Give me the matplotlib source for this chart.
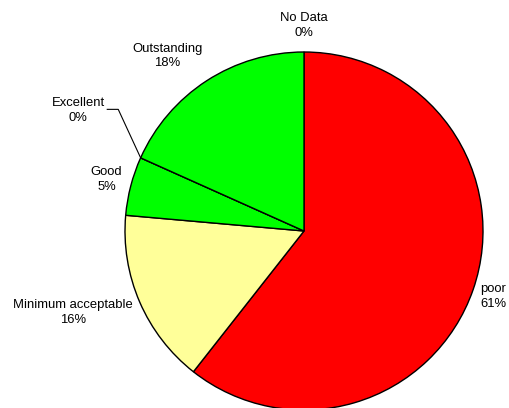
import numpy as np
import matplotlib
matplotlib.use("Agg")
import matplotlib.pyplot as plt

# categories clockwise from 12 o'clock
labels = ["No Data", "poor", "Minimum acceptable", "Good", "Excellent", "Outstanding"]
values = [0.0, 60.6, 15.8, 5.3, 0.0, 18.3]
colors = ["#FFFFFF", "#FF0000", "#FFFF99", "#00FF00", "#00FF00", "#00FF00"]

# label placement: distance from centre (in radii) and angle tweak (deg)
label_dist = [1.15, 1.12, 1.37, 1.14, 1.43, 1.24]
label_shift = [0, 0, 4, 0, 4, -5]

plt.rcParams["font.family"] = ["Liberation Sans", "DejaVu Sans"]

fig = plt.figure(figsize=(5.09, 4.08), dpi=100)
ax = fig.add_axes([0, 0, 1, 1])

cx, cy, R = 304, 177, 179
wedges, _ = ax.pie(values, colors=colors, startangle=90, counterclock=False,
                   center=(cx, cy), radius=R,
                   wedgeprops=dict(edgecolor="black", linewidth=1.0))
ax.set_xlim(0, 509)
ax.set_ylim(0, 408)
ax.set_aspect("equal")
ax.axis("off")

total = sum(values)
start = 0.0
for lab, v, d, s in zip(labels, values, label_dist, label_shift):
    mid = start + v / total * 360 / 2
    edge = start + v / total * 360
    a = np.radians(mid + s)
    tx = cx + d * R * np.sin(a)
    ty = cy + d * R * np.cos(a)
    txt = f"{lab}\n{v / total * 100:.0f}%"
    ax.text(tx, ty, txt, ha="center", va="center", fontsize=9.4,
            linespacing=1.3, color="black")
    # leader line for the zero slice that sits away from the pie
    if lab == "Excellent":
        e = np.radians(edge)
        ex = cx + R * np.sin(e)
        ey = cy + R * np.cos(e)
        ax.plot([ex, tx + 40, tx + 29], [ey, ty + 1, ty + 1],
                color="black", linewidth=0.8)
    start = edge

fig.savefig("out.png", dpi=100)
